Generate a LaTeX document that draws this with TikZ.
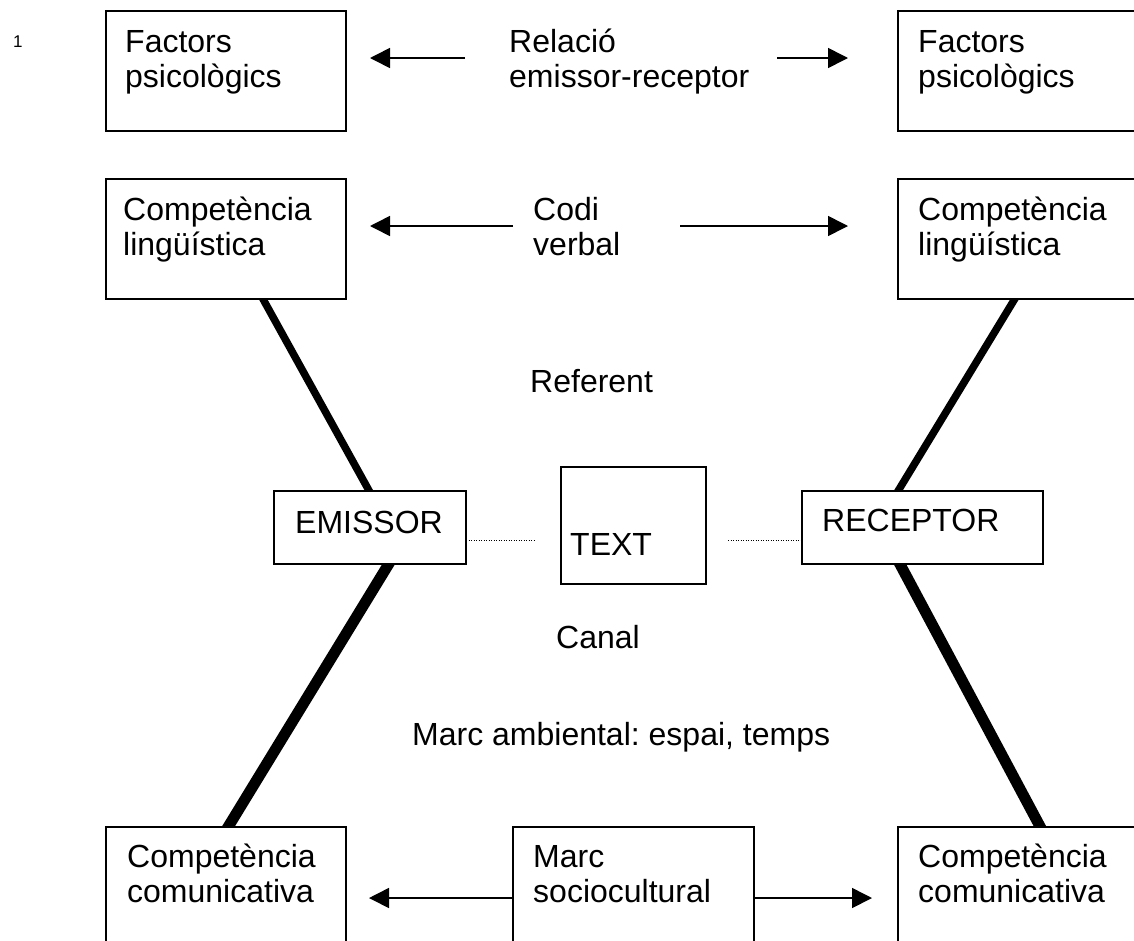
\documentclass[tikz,border=0pt]{standalone}
\usepackage{fontspec}
\setmainfont{Liberation Sans}
\usetikzlibrary{arrows.meta,calc}
\pgfdeclarelayer{bg}
\pgfsetlayers{bg,main}
\frenchspacing
\begin{document}
\begin{tikzpicture}[x=1pt,y=-1pt,
  box/.style={draw, line width=1.6pt, fill=white, anchor=north west, inner sep=0pt},
  txt/.style={anchor=base west, align=left, text width=280pt, inner sep=0pt, font=\fontsize{32}{35}\selectfont},
  one/.style={anchor=base west, inner sep=0pt, font=\fontsize{32}{35}\selectfont},
  arr/.style={line width=1.6pt, -{Triangle[length=20pt,width=20pt]}},
  thinlink/.style={line width=7.5pt},
  thicklink/.style={line width=11pt},
  dots/.style={line width=1pt, dash pattern=on 1pt off 1.5pt}]
\useasboundingbox (0,0) rectangle (1134,940);
\clip (0,0) rectangle (1134,940);

% page number
\node[anchor=base west, inner sep=0pt, font=\fontsize{17}{19}\selectfont] (num) at (13,47) {1};

% boxes
\node[box, minimum width=240pt, minimum height=120pt] (fpL) at (105,10) {};
\node[box, minimum width=260pt, minimum height=120pt] (fpR) at (897,10) {};
\node[box, minimum width=240pt, minimum height=120pt] (clL) at (105,178) {};
\node[box, minimum width=260pt, minimum height=120pt] (clR) at (897,178) {};
\node[box, minimum width=192pt, minimum height=73pt] (em) at (273,490) {};
\node[box, minimum width=145pt, minimum height=117pt] (tx) at (560,466) {};
\node[box, minimum width=241pt, minimum height=73pt] (rc) at (801,490) {};
\node[box, minimum width=240pt, minimum height=200pt] (ccL) at (105,826) {};
\node[box, minimum width=241pt, minimum height=200pt] (ms) at (512,826) {};
\node[box, minimum width=260pt, minimum height=200pt] (ccR) at (897,826) {};

% box texts
\node[txt] (fpLt) at ($(fpL.north west)+(20,42)$) {Factors\\psicològics};
\node[txt] (fpRt) at ($(fpR.north west)+(21,42)$) {Factors\\psicològics};
\node[txt] (clLt) at ($(clL.north west)+(18,42)$) {Competència\\lingüística};
\node[txt] (clRt) at ($(clR.north west)+(21,42)$) {Competència\\lingüística};
\node[one] (emt) at ($(em.north west)+(22,43)$) {EMISSOR};
\node[one] (txt) at ($(tx.north west)+(10,89)$) {TEXT};
\node[one] (rct) at ($(rc.north west)+(21,41)$) {RECEPTOR};
\node[txt] (ccLt) at ($(ccL.north west)+(22,41)$) {Competència\\comunicativa};
\node[txt] (mst) at ($(ms.north west)+(21,41)$) {Marc\\sociocultural};
\node[txt] (ccRt) at ($(ccR.north west)+(21,41)$) {Competència\\comunicativa};

% free labels
\node[txt] (rel) at (509,52) {Relació\\emissor-receptor};
\node[txt] (codi) at (533,220) {Codi\\verbal};
\node[one] (ref) at (530,392) {Referent};
\node[one] (can) at (556,648) {Canal};
\node[one] (amb) at (412,745) {Marc ambiental: espai, temps};

% arrow end points
\coordinate (r1a) at (465,58);
\coordinate (r1b) at (370,58);
\coordinate (r1c) at (777,58);
\coordinate (r1d) at (848,58);
\coordinate (r2a) at (513,226);
\coordinate (r2b) at (370,226);
\coordinate (r2c) at (680,226);
\coordinate (r2d) at (848,226);
\coordinate (r3b) at (369,898);
\coordinate (r3d) at (872,898);

\draw[arr] (r1a) -- (r1b);
\draw[arr] (r1c) -- (r1d);
\draw[arr] (r2a) -- (r2b);
\draw[arr] (r2c) -- (r2d);
\draw[arr] ($(ms.north west)+(0,72)$) -- (r3b);
\draw[arr] ($(ms.north east)+(0,72)$) -- (r3d);

% dotted channel lines
\coordinate (d1) at (535,540);
\coordinate (d2) at (728,540);
\draw[dots] ($(em.north east)+(2,50)$) -- (d1);
\draw[dots] (d2) -- ($(rc.north west)+(0,50)$);

% thick links (behind boxes)
\begin{pgfonlayer}{bg}
\draw[thinlink] ($(clL.south west)+(155,-6)$) -- ($(em.north west)+(99,6)$);
\draw[thicklink] ($(em.south west)+(119,-6)$) -- ($(ccL.north west)+(120,6)$);
\draw[thinlink] ($(clR.south west)+(121,-6)$) -- ($(rc.north west)+(94,6)$);
\draw[thicklink] ($(rc.south west)+(96,-6)$) -- ($(ccR.north west)+(146,6)$);
\end{pgfonlayer}
\end{tikzpicture}
\end{document}
